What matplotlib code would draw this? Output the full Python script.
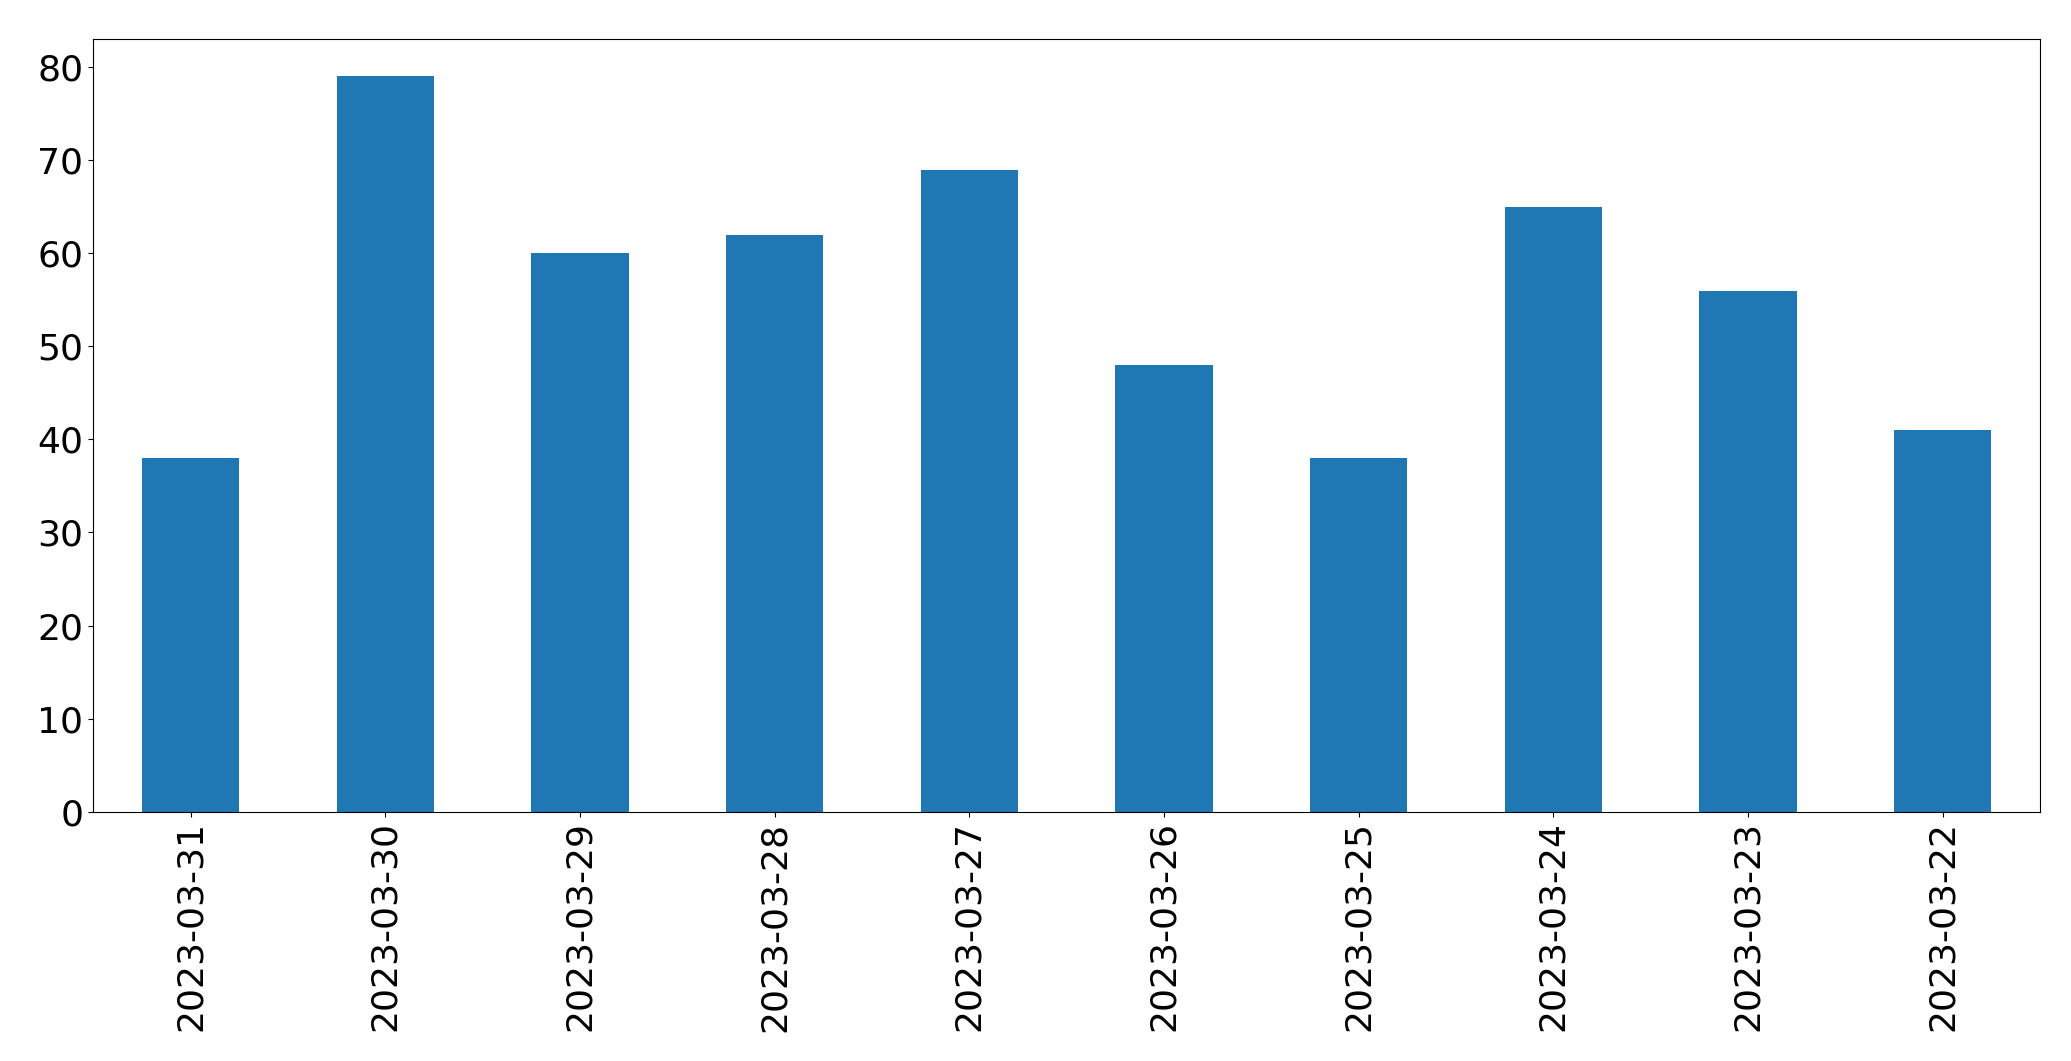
import matplotlib
matplotlib.use("Agg")
import matplotlib.pyplot as plt
import numpy as np

dates = ["2023-03-31", "2023-03-30", "2023-03-29", "2023-03-28", "2023-03-27",
         "2023-03-26", "2023-03-25", "2023-03-24", "2023-03-23", "2023-03-22"]
counts = [38, 79, 60, 62, 69, 48, 38, 65, 56, 41]

fig = plt.figure(figsize=(20.71, 10.61), dpi=100)
ax = fig.add_axes([0.045, 0.235, 0.94, 0.728])
x = np.arange(len(dates))
ax.bar(x, counts, width=0.5, color="#1f77b4")
ax.set_xlim(-0.5, len(dates) - 0.5)
ax.set_ylim(0, 83)
ax.set_xticks(x)
ax.set_xticklabels(dates, rotation=90)
ax.tick_params(axis="both", labelsize=26)
fig.savefig("out.png", dpi=100)
